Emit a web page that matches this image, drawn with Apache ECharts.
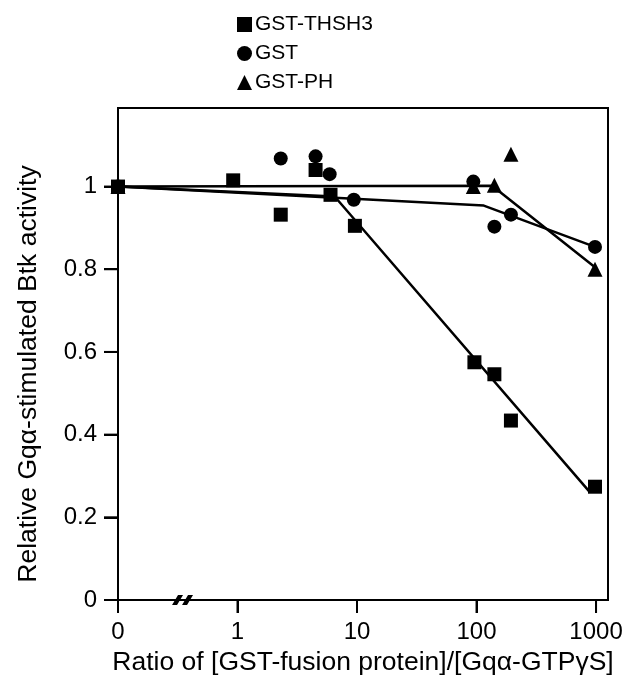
<!DOCTYPE html>
<html>
<head>
<meta charset="utf-8">
<script src="https://cdn.jsdelivr.net/npm/echarts@6/dist/echarts.min.js"></script>
<style>
html,body{margin:0;padding:0;background:#fff;}
#chart{width:639px;height:683px;}
</style>
</head>
<body>
<div id="chart"></div>
<script>
// Tick labels for the broken log x axis (0 is placed one decade below 1)
var xTickLabels = ['0', '1', '10', '100', '1000'];
var yTicks = [0, 0.2, 0.4, 0.6, 0.8, 1];

// GST-THSH3 (squares)
var thsh3Ratio = [0, 0.92, 2.3, 4.5, 6.0, 9.6, 96, 141, 194, 980];
var thsh3Value = [1.00, 1.015, 0.932, 1.04, 0.98, 0.905, 0.575, 0.546, 0.434, 0.274];
var thsh3FitRatio = [0, 6.5, 880];
var thsh3FitValue = [1.00, 0.976, 0.262];

// GST (circles)
var gstRatio = [0, 2.3, 4.5, 5.9, 9.4, 94, 141, 194, 980];
var gstValue = [1.00, 1.068, 1.073, 1.03, 0.968, 1.012, 0.903, 0.932, 0.854];
var gstFitRatio = [0, 115, 980];
var gstFitValue = [1.00, 0.954, 0.854];

// GST-PH (triangles)
var phRatio = [0, 94, 141, 194, 980];
var phValue = [1.00, 1.00, 1.003, 1.078, 0.80];
var phFitRatio = [0, 135, 980];
var phFitValue = [1.00, 1.002, 0.805];

// axis break position (between 0 and 1 on the ratio axis)
var breakPos = [-0.46, 0];

function toX(r) { return r === 0 ? -1 : Math.log10(r); }
function pairs(rs, vs) { return rs.map(function (r, i) { return [toX(r), vs[i]]; }); }

var xTickPos = xTickLabels.map(function (s, i) { return [i - 1, 0]; });
var yTickPos = yTicks.map(function (v) { return [-1, v]; });

var font = 'Liberation Sans, Arial, Helvetica, sans-serif';
var chart = echarts.init(document.getElementById('chart'), null, {renderer: 'canvas'});

var lineStyle = {color: '#000', width: 2.5};

chart.setOption({
  backgroundColor: '#fff',
  animation: false,
  textStyle: {fontFamily: font, color: '#000'},
  legend: {
    orient: 'vertical',
    left: 232,
    top: 9,
    itemWidth: 15,
    itemHeight: 15,
    itemGap: 8,
    textStyle: {fontFamily: font, fontSize: 21, color: '#000', lineHeight: 20, padding: [0, 0, 0, -2]},
    data: [
      {name: 'GST-THSH3', icon: 'rect', itemStyle: {color: '#000', opacity: 1}},
      {name: 'GST', icon: 'circle', itemStyle: {color: '#000', opacity: 1}},
      {name: 'GST-PH', icon: 'triangle', itemStyle: {color: '#000', opacity: 1}}
    ]
  },
  grid: {
    left: 118, right: 31, top: 108, bottom: 83,
    show: true, borderColor: '#000', borderWidth: 2, backgroundColor: 'transparent'
  },
  xAxis: {
    type: 'value',
    min: -1, max: 3.1, interval: 1,
    name: 'Ratio of [GST-fusion protein]/[Gqα-GTPγS]',
    nameLocation: 'middle',
    nameGap: 46,
    nameTextStyle: {fontFamily: font, fontSize: 26.5, color: '#000'},
    axisLine: {show: true, onZero: false, lineStyle: {color: '#000', width: 2}},
    axisTick: {show: true, inside: false, length: 13, lineStyle: {color: '#000', width: 2}},
    axisLabel: {
      margin: 20, fontFamily: font, fontSize: 24, color: '#000',
      showMaxLabel: false,
      formatter: function (v) { var i = Math.round(v) + 1; return xTickLabels[i] !== undefined ? xTickLabels[i] : ''; }
    },
    splitLine: {show: false}
  },
  yAxis: {
    type: 'value',
    min: 0, max: 1.19, interval: 0.2,
    name: 'Relative Gqα-stimulated Btk activity',
    nameLocation: 'middle',
    nameGap: 76,
    nameTextStyle: {fontFamily: font, fontSize: 26.5, color: '#000', padding: [0, 40, 0, 0]},
    axisLine: {show: true, onZero: false, lineStyle: {color: '#000', width: 2}},
    axisTick: {show: true, inside: false, length: 14, lineStyle: {color: '#000', width: 2}},
    axisLabel: {
      margin: 21, fontFamily: font, fontSize: 24, color: '#000',
      showMaxLabel: false,
      formatter: function (v) {
        var t = yTicks.find(function (y) { return Math.abs(y - v) < 1e-6; });
        return t === undefined ? '' : String(t);
      }
    },
    splitLine: {show: false}
  },
  series: [
    {type: 'line', name: 'fit-thsh3', data: pairs(thsh3FitRatio, thsh3FitValue), symbol: 'none', lineStyle: lineStyle, z: 2, silent: true},
    {type: 'line', name: 'fit-gst', data: pairs(gstFitRatio, gstFitValue), symbol: 'none', lineStyle: lineStyle, z: 2, silent: true},
    {type: 'line', name: 'fit-ph', data: pairs(phFitRatio, phFitValue), symbol: 'none', lineStyle: lineStyle, z: 2, silent: true},
    {type: 'scatter', name: 'GST-PH', data: pairs(phRatio, phValue), symbol: 'triangle', symbolSize: 15, itemStyle: {color: '#000', opacity: 1}, z: 3},
    {type: 'scatter', name: 'GST', data: pairs(gstRatio, gstValue), symbol: 'circle', symbolSize: 14, itemStyle: {color: '#000', opacity: 1}, z: 4},
    {type: 'scatter', name: 'GST-THSH3', data: pairs(thsh3Ratio, thsh3Value), symbol: 'rect', symbolSize: 14, itemStyle: {color: '#000', opacity: 1}, z: 5},
    {
      type: 'scatter', name: 'axis-break', data: [breakPos], silent: true, z: 7,
      symbol: 'path://M0,10 L5,10 L11,0 L6,0 Z M10,10 L15,10 L21,0 L16,0 Z',
      symbolSize: [21, 10], itemStyle: {color: '#000', opacity: 1}, clip: false
    }
  ]
});

// Tick marks also placed through the axes' own scales (same positions as axisTick)
var tickGraphics = [];
xTickPos.forEach(function (p) {
  var px = chart.convertToPixel({gridIndex: 0}, p);
  if (px) tickGraphics.push({type: 'line', silent: true, z: 100,
    shape: {x1: px[0], y1: px[1], x2: px[0], y2: px[1] + 13},
    style: {stroke: '#000', lineWidth: 2}});
});
yTickPos.forEach(function (p) {
  var px = chart.convertToPixel({gridIndex: 0}, p);
  if (px) tickGraphics.push({type: 'line', silent: true, z: 100,
    shape: {x1: px[0], y1: px[1], x2: px[0] - 14, y2: px[1]},
    style: {stroke: '#000', lineWidth: 2}});
});
chart.setOption({graphic: tickGraphics});
</script>
</body>
</html>
